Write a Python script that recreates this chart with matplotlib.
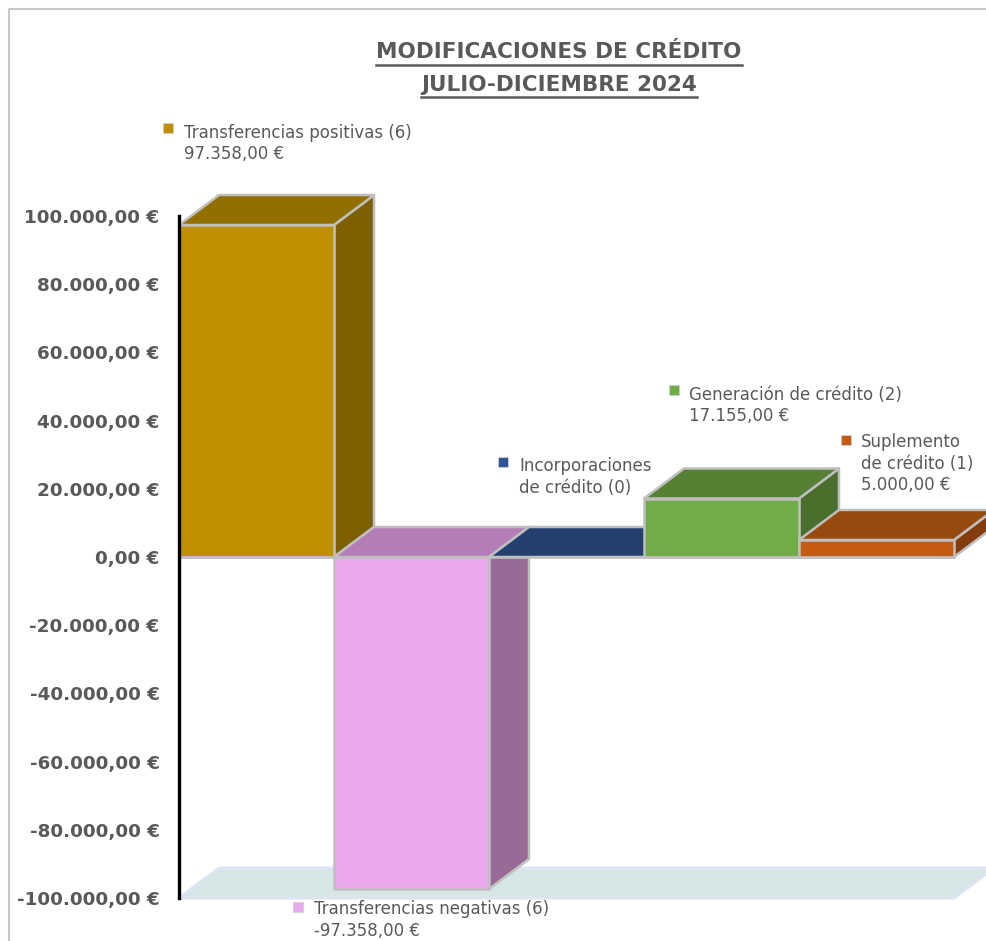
import matplotlib
matplotlib.use("Agg")
import matplotlib.pyplot as plt
from matplotlib.patches import Polygon, Rectangle
from matplotlib.lines import Line2D

W, H = 987, 941
FONT = ["DejaVu Sans"]
TXT = "#595959"

categories = ["Transferencias positivas (6)", "Transferencias negativas (6)",
              "Incorporaciones\nde crédito (0)", "Generación de crédito (2)",
              "Suplemento\nde crédito (1)"]
values = [97358, -97358, 0, 17155, 5000]
value_labels = ["97.358,00 €", "-97.358,00 €", "", "17.155,00 €", "5.000,00 €"]
y_ticks = [100000, 80000, 60000, 40000, 20000, 0, -20000, -40000, -60000, -80000, -100000]
y_labels = ["100.000,00 €", "80.000,00 €", "60.000,00 €", "40.000,00 €", "20.000,00 €", "0,00 €",
            "-20.000,00 €", "-40.000,00 €", "-60.000,00 €", "-80.000,00 €", "-100.000,00 €"]
front = ["#BF8F00", "#EAA9EC", "#2F5597", "#70AD47", "#C55A11"]
top = ["#927000", "#B57DB5", "#24406F", "#588035", "#974A0E"]
side = ["#7F6000", "#986B96", "#1F3864", "#4A6E2C", "#843C0C"]
title = ["MODIFICACIONES DE CRÉDITO", "JULIO-DICIEMBRE 2024"]


def fx(x):
    return x / W


def fy(y):
    return 1 - y / H


fig = plt.figure(figsize=(W / 100, H / 100), dpi=100, facecolor="white")

# outer chart frame (continues past the right and bottom edges of the picture)
fig.add_artist(Line2D([fx(9), fx(9), fx(987)], [fy(941), fy(9), fy(9)], color="#C8C8C8", lw=1.5))

L, R, T, B = 179, 954, 216, 898
ax = fig.add_axes([fx(L), fy(B), (R - L) / W, (B - T) / H])
ax.set_xlim(0, len(values))
ax.set_ylim(-100000, 100000)
ax.patch.set_alpha(0)
for s in ["top", "right", "bottom"]:
    ax.spines[s].set_visible(False)
ax.spines["left"].set_linewidth(2.4)
ax.spines["left"].set_color("black")
ax.spines["left"].set_zorder(20)
ax.set_xticks([])
ax.set_yticks(y_ticks)
ax.set_yticklabels(y_labels, fontsize=13.2, fontweight="bold", color=TXT, family=FONT)
ax.tick_params(axis="y", length=0, pad=14)

dx = 40 / ((R - L) / len(values))
dy = 30 / ((B - T) / 200000)
EDGE = "#BFBFBF"


def poly(pts, fc, ec=EDGE, lw=1.8):
    ax.add_patch(Polygon(pts, closed=True, facecolor=fc, edgecolor=ec, linewidth=lw,
                         joinstyle="round", clip_on=False))


# floor
fl = -100000
poly([(0, fl), (5, fl), (5 + dx, fl + dy), (dx, fl + dy)], "#D6E5E5", ec="#DCE6F2", lw=2.2)

for i, v in enumerate(values):
    lo, hi = min(v, 0), max(v, 0)
    poly([(i + 1, lo), (i + 1 + dx, lo + dy), (i + 1 + dx, hi + dy), (i + 1, hi)], side[i])
    poly([(i, hi), (i + dx, hi + dy), (i + 1 + dx, hi + dy), (i + 1, hi)], top[i])
    if v != 0:
        poly([(i, lo), (i + 1, lo), (i + 1, hi), (i, hi)], front[i])
# base line along the zero level
ax.plot([0, 5], [0, 0], color=EDGE, lw=1.8, clip_on=False, zorder=5)

# labels: marker left edge, marker top, text left, text top (pixels)
anchors = [(163, 123, 184, 124), (293, 902, 314, 900), (498, 457, 519, 457),
           (669, 385, 689, 386), (841, 435, 861, 433)]
for (mx, my, tx, ty), name, val, col in zip(anchors, categories, value_labels, front):
    fig.add_artist(Rectangle((fx(mx), fy(my + 10)), 10 / W, 10 / H, facecolor=col,
                             edgecolor="#D0D0D0", lw=0.6, transform=fig.transFigure))
    s = name + ("\n" + val if val else "")
    fig.text(fx(tx), fy(ty), s, fontsize=12, color=TXT, family=FONT, va="top", ha="left",
             linespacing=1.25)

# title with underlines
fig.canvas.draw()
rend = fig.canvas.get_renderer()
for line, yc, yu in zip(title, [52, 85], [65, 97]):
    t = fig.text(fx(559), fy(yc), line, fontsize=15.5, fontweight="bold", color=TXT, family=FONT,
                 ha="center", va="center")
    bb = t.get_window_extent(rend)
    fig.add_artist(Line2D([bb.x0 / W, bb.x1 / W], [fy(yu), fy(yu)], color=TXT, lw=1.8))

fig.savefig("out.png", dpi=100, facecolor="white")
